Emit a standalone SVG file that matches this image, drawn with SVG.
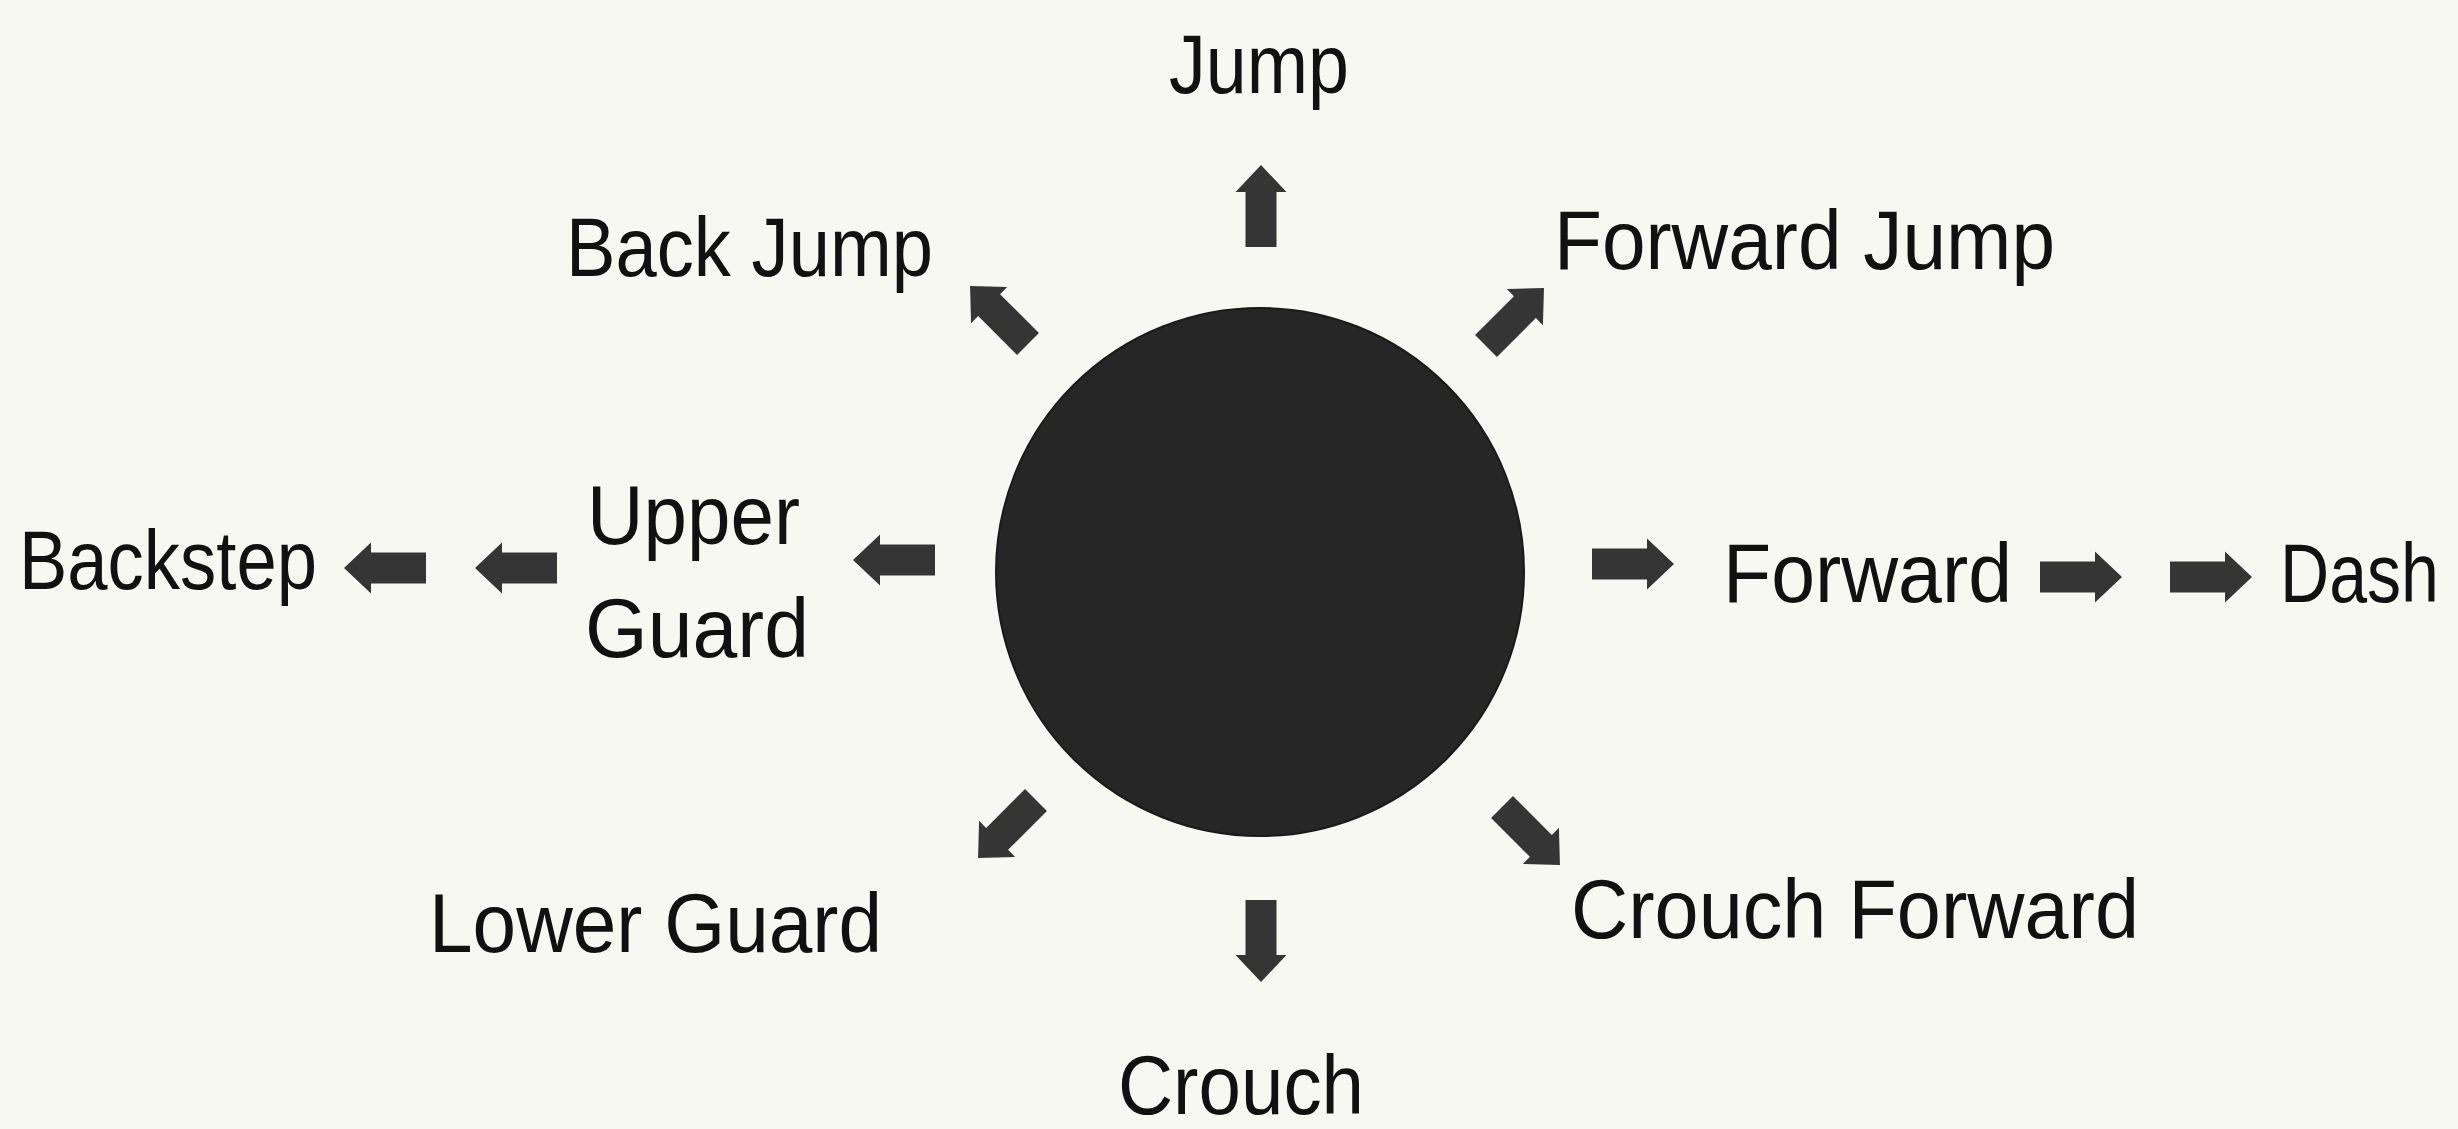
<svg xmlns="http://www.w3.org/2000/svg" xmlns:xlink="http://www.w3.org/1999/xlink" width="2458" height="1129" viewBox="0 0 2458 1129">
<style>
.lbl{font-family:"Liberation Sans","Noto Sans",Arial,sans-serif;font-size:84px;fill:#111;}
.arr{fill:#353535;}
</style>
<defs>
<path id="arrow" class="arr" d="M0,-15.5 L55,-15.5 L55,-25.5 L82,0 L55,25.5 L55,15.5 L0,15.5 Z"/>
</defs>
<rect x="0" y="0" width="2458" height="1129" fill="#f8f8f3"/>
<g id="center">
<circle cx="1260" cy="572" r="264" fill="#262626" stroke="#1a1a1a" stroke-width="2"/>
</g>
<g id="connectors">
<use xlink:href="#arrow" href="#arrow" transform="translate(1261,247) rotate(-90)"/>
<use xlink:href="#arrow" href="#arrow" transform="translate(1261,900) rotate(90)"/>
<use xlink:href="#arrow" href="#arrow" transform="translate(1028,344) rotate(-135)"/>
<use xlink:href="#arrow" href="#arrow" transform="translate(1486,346) rotate(-45)"/>
<use xlink:href="#arrow" href="#arrow" transform="translate(1036,800) rotate(135)"/>
<use xlink:href="#arrow" href="#arrow" transform="translate(1502,807) rotate(45)"/>
<use xlink:href="#arrow" href="#arrow" transform="translate(935,560) rotate(180)"/>
<use xlink:href="#arrow" href="#arrow" transform="translate(557,568) rotate(180)"/>
<use xlink:href="#arrow" href="#arrow" transform="translate(426,568) rotate(180)"/>
<use xlink:href="#arrow" href="#arrow" transform="translate(1592,564)"/>
<use xlink:href="#arrow" href="#arrow" transform="translate(2040,577)"/>
<use xlink:href="#arrow" href="#arrow" transform="translate(2170,577)"/>
</g>
<g id="jump"><text class="lbl" x="1169" y="93" textLength="180" lengthAdjust="spacingAndGlyphs">Jump</text></g>
<g id="back-jump"><text class="lbl" x="566" y="276" textLength="367" lengthAdjust="spacingAndGlyphs">Back Jump</text></g>
<g id="forward-jump"><text class="lbl" x="1554" y="269" textLength="501" lengthAdjust="spacingAndGlyphs">Forward Jump</text></g>
<g id="backstep"><text class="lbl" x="19" y="589" textLength="298" lengthAdjust="spacingAndGlyphs">Backstep</text></g>
<g id="upper-guard">
<text class="lbl" x="587" y="544" textLength="213" lengthAdjust="spacingAndGlyphs">Upper</text>
<text class="lbl" x="585" y="657" textLength="224" lengthAdjust="spacingAndGlyphs">Guard</text>
</g>
<g id="forward"><text class="lbl" x="1723" y="602" textLength="289" lengthAdjust="spacingAndGlyphs">Forward</text></g>
<g id="dash"><text class="lbl" transform="translate(2280,602) scale(0.81,1)" x="0" y="0">Dash</text></g>
<g id="lower-guard"><text class="lbl" x="429" y="952" textLength="453" lengthAdjust="spacingAndGlyphs">Lower Guard</text></g>
<g id="crouch-forward"><text class="lbl" x="1571" y="938" textLength="568" lengthAdjust="spacingAndGlyphs">Crouch Forward</text></g>
<g id="crouch"><text class="lbl" x="1118" y="1114" textLength="246" lengthAdjust="spacingAndGlyphs">Crouch</text></g>
</svg>
